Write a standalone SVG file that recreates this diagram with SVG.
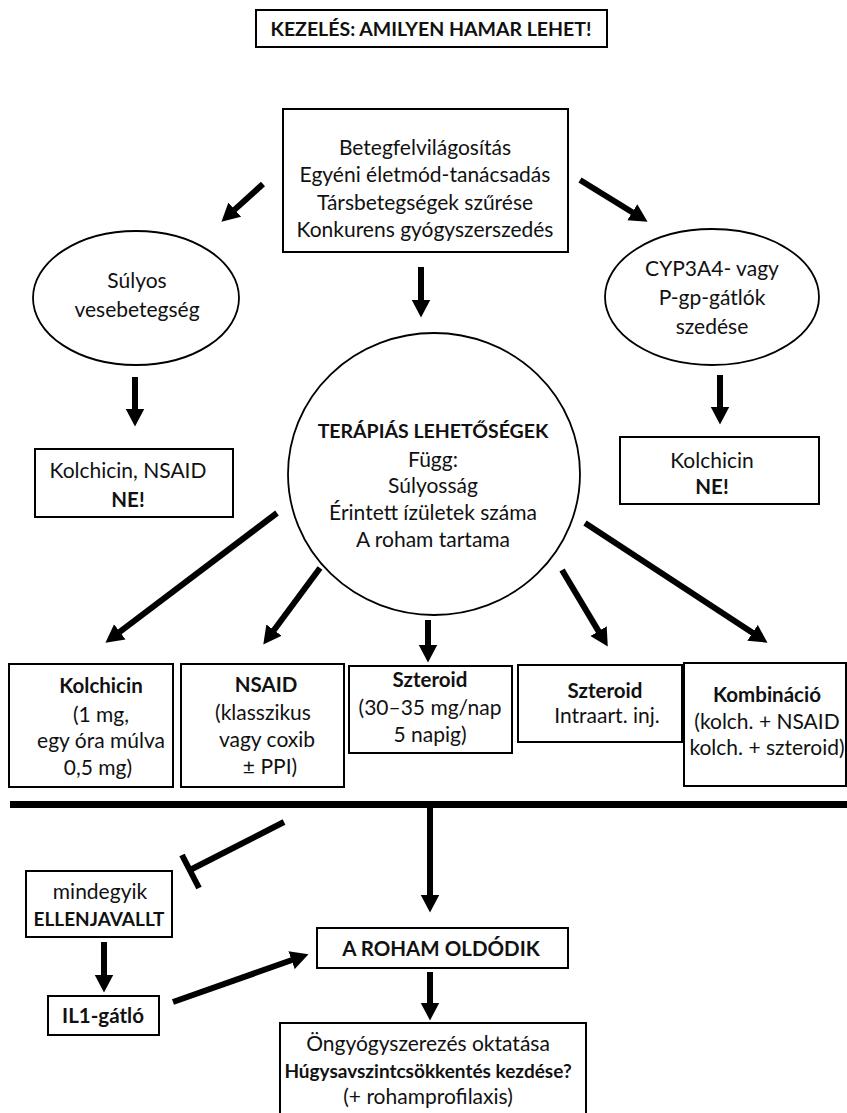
<svg xmlns="http://www.w3.org/2000/svg" width="847" height="1113" viewBox="0 0 847 1113">
<defs>
<marker id="ah" viewBox="0 -10 20 20" markerWidth="20" markerHeight="20" refX="0.5" refY="0" orient="auto" markerUnits="userSpaceOnUse">
<path d="M0,-9.5 L18,0 L0,9.5 z" fill="#000"/>
</marker>
<style>
.box{fill:#fff;stroke:#000;stroke-width:2}
.oval{fill:#fff;stroke:#000;stroke-width:1.8}
.t{font-family:Lato,"Open Sans","Liberation Sans",sans-serif;font-size:21px;fill:#111;text-anchor:middle}
.b{font-weight:bold;font-size:20.5px}
.c{font-weight:bold;font-size:19.5px}
.ar{stroke:#000;stroke-width:6;fill:none;marker-end:url(#ah)}
.ln{stroke:#000;stroke-width:6;fill:none}
</style>
</defs>
<rect width="847" height="1113" fill="#fff"/>

<g id="title">
<rect class="box" x="256" y="10" width="351" height="37"/>
<text class="t c" x="431" y="36">KEZELÉS: AMILYEN HAMAR LEHET!</text>
</g>

<g id="top">
<rect class="box" x="283" y="109" width="285" height="143"/>
<text class="t" x="425" y="155">Betegfelvilágosítás</text>
<text class="t" x="425" y="182">Egyéni életmód-tanácsadás</text>
<text class="t" x="425" y="210">Társbetegségek szűrése</text>
<text class="t" x="425" y="237">Konkurens gyógyszerszedés</text>
</g>

<g id="vese">
<ellipse class="oval" cx="136" cy="298" rx="103" ry="67"/>
<text class="t" x="137" y="288">Súlyos</text>
<text class="t" x="137" y="317">vesebetegség</text>
</g>

<g id="cyp">
<ellipse class="oval" cx="712" cy="297" rx="107" ry="68"/>
<text class="t" x="712" y="276">CYP3A4- vagy</text>
<text class="t" x="712" y="305">P-gp-gátlók</text>
<text class="t" x="712" y="334">szedése</text>
</g>

<g id="ne1">
<rect class="box" x="35" y="449" width="198" height="68"/>
<text class="t" x="128" y="478">Kolchicin, NSAID</text>
<text class="t b" x="128" y="507">NE!</text>
</g>

<g id="ne2">
<rect class="box" x="620" y="437" width="199" height="67"/>
<text class="t" x="712" y="468">Kolchicin</text>
<text class="t b" x="712" y="494">NE!</text>
</g>

<g id="terapia">
<ellipse class="oval" cx="434" cy="474" rx="146" ry="141"/>
<text class="t c" x="433" y="438">TERÁPIÁS LEHETŐSÉGEK</text>
<text class="t" x="433" y="467">Függ:</text>
<text class="t" x="433" y="493">Súlyosság</text>
<text class="t" x="433" y="520">Érintett ízületek száma</text>
<text class="t" x="433" y="547">A roham tartama</text>
</g>

<g id="kolchicin">
<rect class="box" x="9" y="664" width="164" height="123"/>
<text class="t b" x="101" y="693">Kolchicin</text>
<text class="t" x="101" y="722">(1 mg,</text>
<text class="t" x="101" y="748">egy óra múlva</text>
<text class="t" x="98" y="775">0,5 mg)</text>
</g>

<g id="nsaid">
<rect class="box" x="181" y="664" width="163" height="123"/>
<text class="t b" x="266" y="692">NSAID</text>
<text class="t" x="263" y="720">(klasszikus</text>
<text class="t" x="267" y="747">vagy  coxib</text>
<text class="t" x="270" y="774">± PPI)</text>
</g>

<g id="szteroid1">
<rect class="box" x="349" y="666" width="163" height="87"/>
<text class="t b" x="430" y="687">Szteroid</text>
<text class="t" x="430" y="715">(30–35 mg/nap</text>
<text class="t" x="430" y="742">5 napig)</text>
</g>

<g id="szteroid2">
<rect class="box" x="518" y="665" width="164" height="77"/>
<text class="t b" x="605" y="698">Szteroid</text>
<text class="t" x="607" y="723">Intraart. inj.</text>
</g>

<g id="kombinacio">
<rect class="box" x="684" y="663" width="162" height="123"/>
<text class="t b" x="767" y="702">Kombináció</text>
<text class="t" x="767" y="729">(kolch. + NSAID</text>
<text class="t" x="767" y="755">kolch. + szteroid)</text>
</g>

<g id="ellenjavallt">
<rect class="box" x="26" y="871" width="146" height="66"/>
<text class="t" x="100" y="899">mindegyik</text>
<text class="t b" x="99" y="926" style="font-size:19px">ELLENJAVALLT</text>
</g>

<g id="il1">
<rect class="box" x="48" y="996" width="111" height="39"/>
<text class="t b" x="103" y="1023">IL1-gátló</text>
</g>

<g id="oldodik">
<rect class="box" x="317" y="928" width="251" height="40"/>
<text class="t b" x="441" y="956">A ROHAM OLDÓDIK</text>
</g>

<g id="vegso">
<rect class="box" x="280" y="1023" width="306" height="95"/>
<text class="t" x="428" y="1051">Öngyógyszerezés oktatása</text>
<text class="t b" x="428" y="1078" style="font-size:19px">Húgysavszintcsökkentés kezdése?</text>
<text class="t" x="428" y="1104">(+ rohamprofilaxis)</text>
</g>

<g id="connectors">
<line class="ar" x1="263" y1="184" x2="234.4" y2="209.9"/>
<line class="ar" x1="580" y1="180" x2="632.7" y2="212.5"/>
<line class="ar" x1="421" y1="267" x2="421" y2="300"/>
<line class="ar" x1="135" y1="377" x2="135" y2="409"/>
<line class="ar" x1="720" y1="375" x2="720" y2="407"/>
<line class="ar" x1="277" y1="513" x2="119.4" y2="632.1"/>
<line class="ar" x1="320" y1="568" x2="273.7" y2="630.5"/>
<line class="ar" x1="428" y1="620" x2="428" y2="645"/>
<line class="ar" x1="562" y1="570" x2="598.8" y2="631.6"/>
<line class="ar" x1="585" y1="523" x2="752.9" y2="633.1"/>
<line x1="10" y1="804.5" x2="847" y2="804.5" stroke="#000" stroke-width="7"/>
<line class="ar" x1="430" y1="804" x2="430" y2="895"/>
<line class="ln" x1="284" y1="822" x2="190" y2="870"/>
<line class="ln" x1="182" y1="855" x2="199" y2="888"/>
<line class="ar" x1="104" y1="942" x2="104" y2="975"/>
<line class="ar" x1="173" y1="1002" x2="292" y2="960"/>
<line class="ar" x1="430" y1="972" x2="430" y2="1003"/>
</g>
</svg>
